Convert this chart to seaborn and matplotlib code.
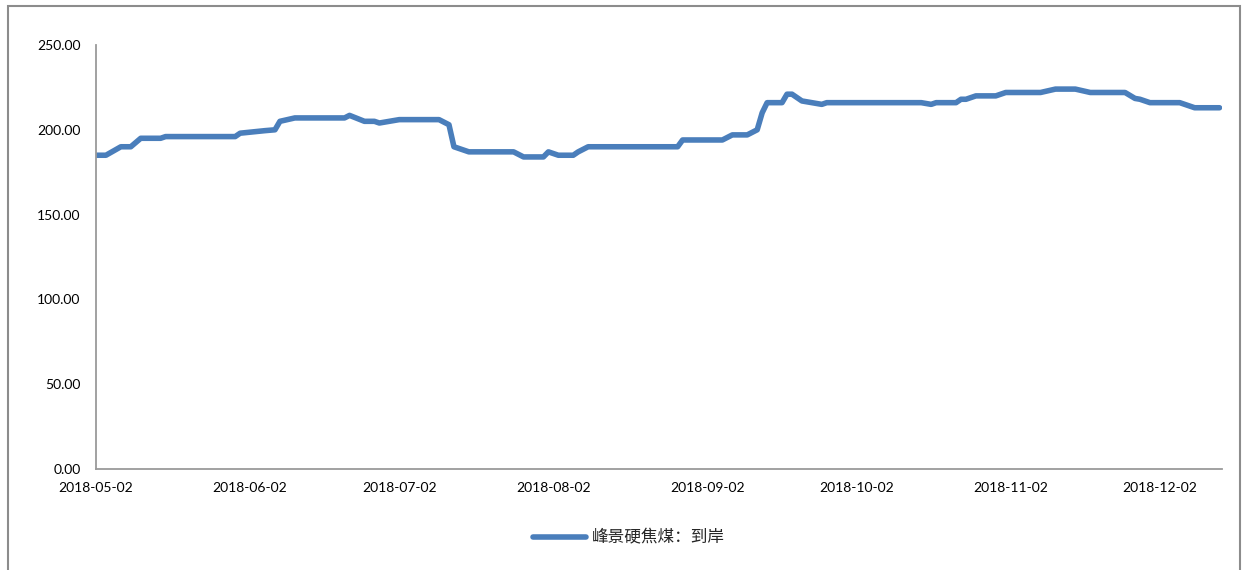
import matplotlib
matplotlib.use("Agg")
import matplotlib.pyplot as plt
import matplotlib.dates as mdates
from matplotlib.patches import Rectangle
import seaborn as sns
import pandas as pd

dates = ["2018-05-02", "2018-05-04", "2018-05-07", "2018-05-09", "2018-05-11", "2018-05-15",
         "2018-05-16", "2018-05-30", "2018-05-31", "2018-06-05", "2018-06-07", "2018-06-08",
         "2018-06-11", "2018-06-21", "2018-06-22", "2018-06-25", "2018-06-27", "2018-06-28",
         "2018-07-02", "2018-07-10", "2018-07-12", "2018-07-13", "2018-07-16", "2018-07-25",
         "2018-07-27", "2018-07-31", "2018-08-01", "2018-08-03", "2018-08-06", "2018-08-07",
         "2018-08-09", "2018-08-27", "2018-08-28", "2018-09-05", "2018-09-07", "2018-09-10",
         "2018-09-12", "2018-09-13", "2018-09-14", "2018-09-17", "2018-09-18", "2018-09-19",
         "2018-09-21", "2018-09-25", "2018-09-26", "2018-10-15", "2018-10-17", "2018-10-18",
         "2018-10-22", "2018-10-23", "2018-10-24", "2018-10-26", "2018-10-30", "2018-11-01",
         "2018-11-08", "2018-11-11", "2018-11-15", "2018-11-18", "2018-11-25", "2018-11-27",
         "2018-11-28", "2018-11-30", "2018-12-06", "2018-12-09", "2018-12-14"]
values = [185, 185, 190, 190, 195, 195,
          196, 196, 198, 199.5, 200, 205,
          207, 207, 208.5, 205, 205, 204,
          206, 206, 203, 190, 187, 187,
          184, 184, 187, 185, 185, 187,
          190, 190, 194, 194, 197, 197,
          200, 210, 216, 216, 221, 221,
          217, 215, 216, 216, 215, 216,
          216, 218, 218, 220, 220, 222,
          222, 224, 224, 222, 222, 218.5,
          218, 216, 216, 213, 213]
series_name = "峰景硬焦煤：到岸"
x_ticks = ["2018-05-02", "2018-06-02", "2018-07-02", "2018-08-02",
           "2018-09-02", "2018-10-02", "2018-11-02", "2018-12-02"]
y_ticks = [0, 50, 100, 150, 200, 250]

df = pd.DataFrame({"date": pd.to_datetime(dates), "value": values})

sns.set_style("white")
plt.rcParams["font.family"] = ["Lato", "Noto Sans CJK SC", "DejaVu Sans"]

fig = plt.figure(figsize=(12.5, 5.7), dpi=100)
ax = fig.add_axes([96 / 1250, 1 - 469 / 570, (1222 - 96) / 1250, (469 - 45) / 570])

sns.lineplot(data=df, x="date", y="value", ax=ax, color="#4a7ebb",
             linewidth=4.0, label=series_name, legend=False)

start = pd.Timestamp("2018-05-02")
ax.set_xlim(start, start + pd.Timedelta(days=226.5))
ax.set_ylim(0, 250)
ax.set_xticks(pd.to_datetime(x_ticks))
ax.xaxis.set_major_formatter(mdates.DateFormatter("%Y-%m-%d"))
ax.set_yticks(y_ticks)
ax.set_yticklabels([f"{v:.2f}" for v in y_ticks])
ax.tick_params(axis="both", length=0, labelsize=10, colors="#000000")
ax.tick_params(axis="y", pad=11)
ax.tick_params(axis="x", pad=9)
ax.set_xlabel("")
ax.set_ylabel("")
for s in ["top", "right"]:
    ax.spines[s].set_visible(False)
for s in ["left", "bottom"]:
    ax.spines[s].set_color("#9a9a9a")
    ax.spines[s].set_linewidth(1.3)
ax.grid(False)

handles, labels = ax.get_legend_handles_labels()
fig.legend(handles, labels, loc="center", bbox_to_anchor=(0.503, 1 - 538 / 570),
           frameon=False, handlelength=3.2, handletextpad=0.3,
           prop={"family": ["Noto Sans CJK SC", "DejaVu Sans"], "size": 12})

border = Rectangle((8 / 1250, -0.05), (1240 - 8) / 1250, 1.05 - 6.5 / 570,
                   transform=fig.transFigure, fill=False, edgecolor="#8c8c8c",
                   linewidth=1.5)
fig.patches.append(border)

fig.savefig("out.png", dpi=100)
